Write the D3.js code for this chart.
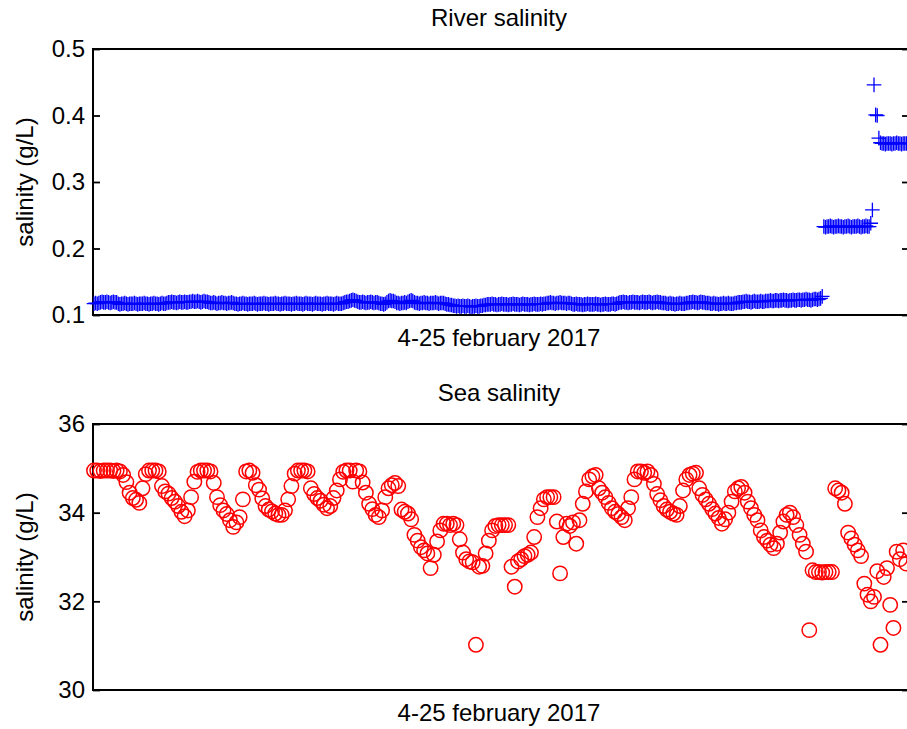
<!DOCTYPE html>
<html>
<head>
<meta charset="utf-8">
<script src="https://cdn.jsdelivr.net/npm/d3@7"></script>
<style>
  html, body { margin: 0; padding: 0; background: #fff; }
  svg { display: block; }
</style>
</head>
<body>
<svg id="fig" width="907" height="729"></svg>
<script>
// River conductivity probe, hourly salinity (g/L) from 4 Feb 2017 00:00
const riverSalinity = [
  0.117,0.118,0.117,0.118,
  0.119,0.120,0.119,0.119,0.120,0.119,0.118,0.119,0.120,0.119,0.119,
  0.117,0.116,0.117,0.117,0.118,0.117,0.116,0.117,0.117,0.117,0.118,0.117,0.116,0.117,0.117,
  0.117,0.118,0.117,0.117,0.116,0.117,0.117,0.118,0.117,0.117,0.116,0.117,0.118,0.117,0.117,
  0.118,0.119,0.119,0.120,0.119,0.119,0.118,0.119,0.120,0.119,0.119,0.120,0.119,0.119,0.120,
  0.120,0.121,0.120,0.120,0.121,0.120,0.119,0.120,0.121,0.120,0.120,0.119,
  0.118,0.118,0.119,0.118,0.117,0.118,0.118,0.119,0.118,0.118,0.117,0.118,0.118,0.119,0.118,
  0.117,0.117,0.116,0.117,0.117,0.118,0.117,0.117,0.116,0.117,
  0.117,0.117,0.118,0.117,0.116,0.117,0.117,0.117,0.118,0.117,
  0.117,0.116,0.117,0.117,0.117,0.118,0.117,0.117,0.116,0.117,
  0.117,0.118,0.117,0.117,0.117,0.116,0.117,0.117,0.118,0.117,
  0.117,0.117,0.116,0.117,0.118,0.117,0.117,0.117,0.116,0.117,
  0.118,0.117,0.117,0.117,0.116,0.117,0.117,0.118,0.117,0.117,
  0.117,0.116,0.117,0.118,0.117,0.117,0.117,0.118,0.119,0.120,
  0.120,
  0.121,0.122,0.123,0.122,0.121,
  0.120,0.119,0.119,0.120,0.119,0.118,0.119,0.119,0.120,0.119,0.118,0.119,0.119,0.118,
  0.117,0.117,0.116,0.117,
  0.119,0.121,0.122,0.121,0.121,0.120,
  0.118,0.118,0.117,0.118,0.118,0.119,0.118,
  0.120,0.121,0.122,0.121,
  0.119,0.118,0.118,0.117,0.118,0.118,0.119,0.118,0.118,0.117,0.118,0.118,
  0.118,0.119,0.118,0.117,0.118,0.118,0.118,0.117,0.116,0.116,0.115,0.115,
  0.114,0.114,0.113,0.114,0.113,0.113,0.114,0.113,0.113,0.114,0.113,
  0.112,0.113,0.113,0.114,0.113,0.113,0.114,0.114,0.115,0.115,0.116,
  0.116,0.116,0.117,0.116,0.116,0.115,0.116,0.116,0.117,0.116,0.116,0.116,
  0.115,0.116,0.116,0.117,0.116,0.116,0.116,0.115,0.116,0.117,0.116,0.116,
  0.116,0.115,0.116,0.116,0.117,0.116,0.116,0.116,0.117,0.116,0.117,0.117,
  0.118,0.118,0.119,0.118,0.118,0.117,0.118,0.118,0.119,0.118,0.118,0.118,0.117,0.118,0.118,0.117,
  0.116,0.116,0.117,0.116,0.116,0.116,0.115,0.116,0.116,0.117,0.116,0.116,0.116,0.116,0.117,
  0.116,0.116,0.115,0.116,0.116,0.117,0.116,0.116,0.116,0.117,0.117,0.116,0.117,0.118,
  0.119,0.119,0.120,0.119,0.119,0.118,0.119,0.119,0.120,0.119,0.119,0.119,0.118,0.119,0.120,
  0.119,0.119,0.119,0.120,0.119,0.118,0.119,0.119,0.120,0.119,0.119,0.118,0.118,0.118,
  0.117,0.117,0.118,0.117,0.117,0.116,0.117,0.117,0.118,0.117,0.117,0.117,0.118,0.118,
  0.119,0.119,0.120,0.119,0.119,0.118,0.119,0.120,0.119,0.119,0.118,0.118,0.118,
  0.117,0.117,0.118,0.117,0.117,0.116,0.117,0.117,0.118,0.117,
  0.117,0.118,0.117,0.117,0.117,0.118,0.118,0.119,0.119,0.119,
  0.120,0.120,0.121,0.120,0.120,0.119,0.120,0.121,0.120,0.120,0.120,0.121,0.120,0.120,0.121,
  0.121,0.121,0.122,0.121,0.121,0.122,0.122,0.121,0.122,0.122,0.123,0.122,0.122,0.121,0.122,0.122,0.123,
  0.122,0.122,0.123,0.123,0.122,0.123,0.123,0.124,0.123,0.123,0.122,0.123,0.124,0.124,0.123,0.124,0.125,
  0.128,
  0.233,0.232,0.233,0.233,0.234,0.233,0.232,0.233,0.233,0.234,0.233,0.233,0.232,0.233,0.233,
  0.234,0.233,0.232,0.233,0.233,0.233,0.234,0.233,0.232,0.233,0.233,0.234,0.233,0.233,
  0.238,0.258,0.446,0.401,0.400,0.366,
  0.359,0.358,0.358,0.357,0.358,0.358,0.358,0.357,0.358,
  0.358,0.359,0.358,0.358,0.357,0.358,0.358,0.358,0.358
];

// Coastal station, salinity (g/L) every 2 hours over the same period
const seaSalinity = [
  34.95,34.95,34.94,34.95,34.95,34.95,34.94,34.95,34.93,34.85,
  34.69,34.45,34.33,34.29,34.22,34.55,34.87,34.95,34.95,34.95,
  34.93,34.60,34.48,34.43,34.33,34.25,34.15,34.02,33.92,34.05,
  34.35,34.70,34.92,34.95,34.95,34.95,34.93,34.67,34.35,34.17,
  34.05,33.97,33.83,33.68,33.78,33.90,34.30,34.93,34.95,34.90,
  34.62,34.52,34.32,34.15,34.07,34.03,33.98,33.95,33.95,34.05,
  34.30,34.60,34.88,34.95,34.95,34.95,34.93,34.55,34.42,34.33,
  34.27,34.18,34.10,34.15,34.33,34.50,34.75,34.92,34.95,34.95,
  34.70,34.95,34.93,34.68,34.45,34.20,34.08,33.95,33.90,34.05,
  34.35,34.55,34.62,34.67,34.60,34.07,34.02,33.98,33.85,33.50,
  33.37,33.22,33.15,33.08,32.75,33.05,33.35,33.60,33.75,33.75,
  33.72,33.75,33.72,33.40,33.10,32.95,32.90,32.88,31.02,32.78,
  32.80,33.08,33.37,33.60,33.70,33.72,33.72,33.72,33.72,32.78,
  32.33,32.90,32.95,33.02,33.05,33.10,33.45,33.90,34.10,34.30,
  34.35,34.35,34.35,33.80,32.63,33.45,33.75,33.70,33.78,33.30,
  33.83,34.20,34.48,34.75,34.82,34.85,34.55,34.45,34.35,34.22,
  34.10,34.02,33.97,33.90,33.83,34.10,34.35,34.75,34.93,34.93,
  34.90,34.93,34.85,34.65,34.42,34.28,34.15,34.07,34.02,33.98,
  33.95,34.15,34.50,34.75,34.85,34.88,34.90,34.55,34.40,34.30,
  34.20,34.08,33.98,33.88,33.75,33.85,34.00,34.25,34.48,34.55,
  34.58,34.45,34.25,34.10,33.95,33.83,33.60,33.45,33.37,33.28,
  33.20,33.30,33.55,33.80,33.95,34.00,33.90,33.72,33.50,33.30,
  33.12,31.35,32.70,32.66,32.66,32.65,32.66,32.66,32.66,34.55,
  34.50,34.45,34.20,33.55,33.42,33.28,33.15,33.02,32.40,32.15,
  32.00,32.10,32.68,31.02,32.55,32.75,31.92,31.40,33.12,32.95,
  33.15,32.85
];

const riverTicks = [0.1, 0.2, 0.3, 0.4, 0.5];
const seaTicks = [30, 32, 34, 36];
const riverDomain = [0.1, 0.5];
const seaDomain = [30, 36];
const riverStepHours = 1;
const seaStepHours = 2;
const periodHours = 503;
const periodLabel = "4-25 february 2017";
const unitLabel = "salinity (g/L)";

const FONT = '"Liberation Sans", Arial, Helvetica, sans-serif';
const FS = 24;
const svg = d3.select("#fig");

const frameLeft = 93, frameRight = 909;
const x = d3.scaleLinear().domain([0, periodHours]).range([94, 908]);

function drawPanel(opts) {
  const { top, bottom, domain, ticks, fmt, title } = opts;
  const y = d3.scaleLinear().domain(domain).range([bottom, top]);
  const g = svg.append("g");

  // axes frame
  g.append("rect")
    .attr("x", frameLeft).attr("y", top)
    .attr("width", frameRight - frameLeft).attr("height", bottom - top)
    .attr("fill", "none").attr("stroke", "#000").attr("stroke-width", 2);

  const styleAxis = a => {
    a.select(".domain").remove();
    a.attr("font-family", FONT).attr("font-size", FS);
    a.selectAll(".tick line").attr("stroke", "#000").attr("stroke-width", 1.8);
    a.selectAll(".tick text").attr("fill", "#000");
  };

  g.append("g")
    .attr("transform", `translate(${frameLeft},0)`)
    .call(d3.axisLeft(y).tickValues(ticks).tickFormat(fmt)
      .tickSizeInner(-7).tickSizeOuter(0).tickPadding(8))
    .call(styleAxis);

  g.append("g")
    .attr("transform", `translate(${frameRight},0)`)
    .call(d3.axisRight(y).tickValues(ticks).tickFormat("")
      .tickSizeInner(-7).tickSizeOuter(0))
    .call(styleAxis);

  const cx = 499;
  g.append("text")
    .attr("x", cx).attr("y", top - 23)
    .attr("text-anchor", "middle")
    .attr("font-family", FONT).attr("font-size", FS).attr("fill", "#000")
    .text(title);

  g.append("text")
    .attr("x", cx).attr("y", bottom + 31)
    .attr("text-anchor", "middle")
    .attr("font-family", FONT).attr("font-size", FS).attr("fill", "#000")
    .text(periodLabel);

  g.append("text")
    .attr("transform", `translate(33,${(top + bottom) / 2}) rotate(-90)`)
    .attr("text-anchor", "middle")
    .attr("font-family", FONT).attr("font-size", FS).attr("fill", "#000")
    .text(unitLabel);

  return { g, y };
}

// River salinity: '+' markers
const river = drawPanel({
  top: 49, bottom: 315, domain: riverDomain, ticks: riverTicks,
  fmt: d3.format(".1f"), title: "River salinity"
});
const arm = 7.3;
river.g.append("g")
  .selectAll("path")
  .data(riverSalinity)
  .join("path")
  .attr("transform", (d, i) => `translate(${x(i * riverStepHours)},${river.y(d)})`)
  .attr("d", `M${-arm},0H${arm}M0,${-arm}V${arm}`)
  .attr("fill", "none")
  .attr("stroke", "#0000ff")
  .attr("stroke-width", 1.3);

// Sea salinity: open circles
const sea = drawPanel({
  top: 424, bottom: 690, domain: seaDomain, ticks: seaTicks,
  fmt: d3.format("d"), title: "Sea salinity"
});
sea.g.append("g")
  .selectAll("circle")
  .data(seaSalinity)
  .join("circle")
  .attr("cx", (d, i) => x(i * seaStepHours))
  .attr("cy", d => sea.y(d))
  .attr("r", 7.2)
  .attr("fill", "none")
  .attr("stroke", "#ff0000")
  .attr("stroke-width", 1.5);
</script>
</body>
</html>
